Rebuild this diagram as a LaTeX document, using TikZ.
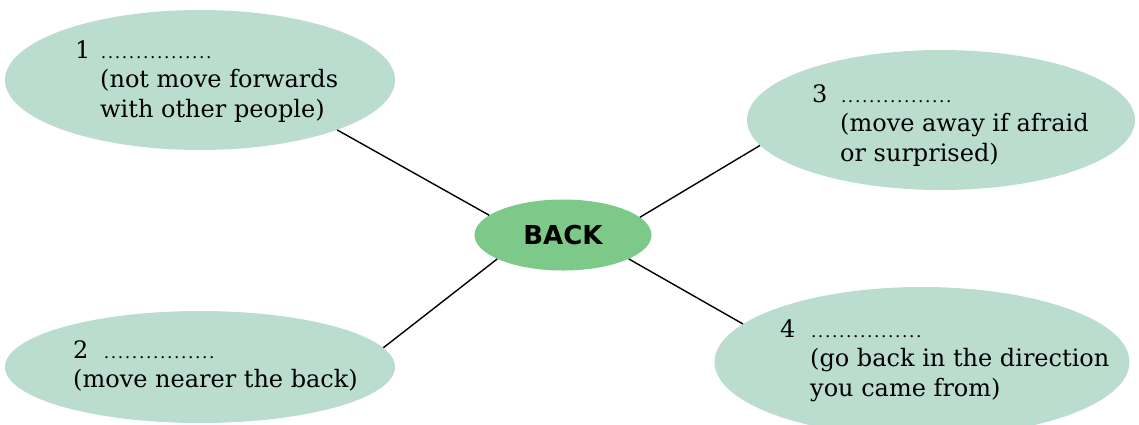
\documentclass[tikz,border=0pt]{standalone}
\usepackage{fontspec}
\setmainfont{DejaVu Serif}
\newfontfamily\backfont{DejaVu Sans}
\usetikzlibrary{shapes.geometric, positioning}
\definecolor{bubblefill}{RGB}{186,221,207}
\definecolor{backfill}{RGB}{124,201,138}
\newcommand{\blank}{\makebox[115pt]{\fontsize{17}{17}\selectfont\leaders\hbox to 7pt{\hss.\hss}\hfill}}

\begin{document}
\begin{tikzpicture}[x=1pt, y=-1pt,
        bubble/.style={ellipse, fill=bubblefill, inner sep=0pt, minimum width=390pt},
        txt/.style={anchor=base west, inner sep=0pt, font=\fontsize{24}{29.5}\selectfont},
        link/.style={line width=1.4pt}]
        \clip (0,0) rectangle (1139,424);
        \fill[white] (0,0) rectangle (1139,424);

        % Nodes
        \node (e1) [bubble, minimum height=140pt] at (200,80) {};
        \node (e2) [bubble, minimum height=112pt] at (200,367) {};
        \node (e3) [bubble, minimum width=388pt, minimum height=140pt] at (941,120) {};
        \node (e4) [bubble, minimum width=415pt, minimum height=150pt] at (922,362) {};
        \node (back) [ellipse, fill=backfill, inner sep=0pt, minimum width=177pt, minimum height=71pt,
            font=\backfont\bfseries\fontsize{26}{26}\selectfont] at (563,235) {BACK};

        % Texts
        \node (t1) [txt] at (75,58) {\begin{tabular}[t]{@{}l@{}l@{}}
            \makebox[25pt][l]{1} & \blank\\ & (not move forwards\\ & with other people)\end{tabular}};
        \node (t2) [txt] at (73,358) {\begin{tabular}[t]{@{}l@{}l@{}}
            \makebox[30pt][l]{2} & \blank\\ \multicolumn{2}{@{}l@{}}{(move nearer the back)}\end{tabular}};
        \node (t3) [txt] at (812,102) {\begin{tabular}[t]{@{}l@{}l@{}}
            \makebox[28pt][l]{3} & \blank\\ & (move away if afraid\\ & or surprised)\end{tabular}};
        \node (t4) [txt] at (780,337) {\begin{tabular}[t]{@{}l@{}l@{}}
            \makebox[30pt][l]{4} & \blank\\ & (go back in the direction\\ & you came from)\end{tabular}};

        % Lines
        \draw[link] (e1.-20) -- (back.165);
        \draw[link] (e2.6) -- (back.200);
        \draw[link] (e3.188) -- (back.13);
        \draw[link] (e4.168) -- (back.-20);

    \end{tikzpicture}
\end{document}
